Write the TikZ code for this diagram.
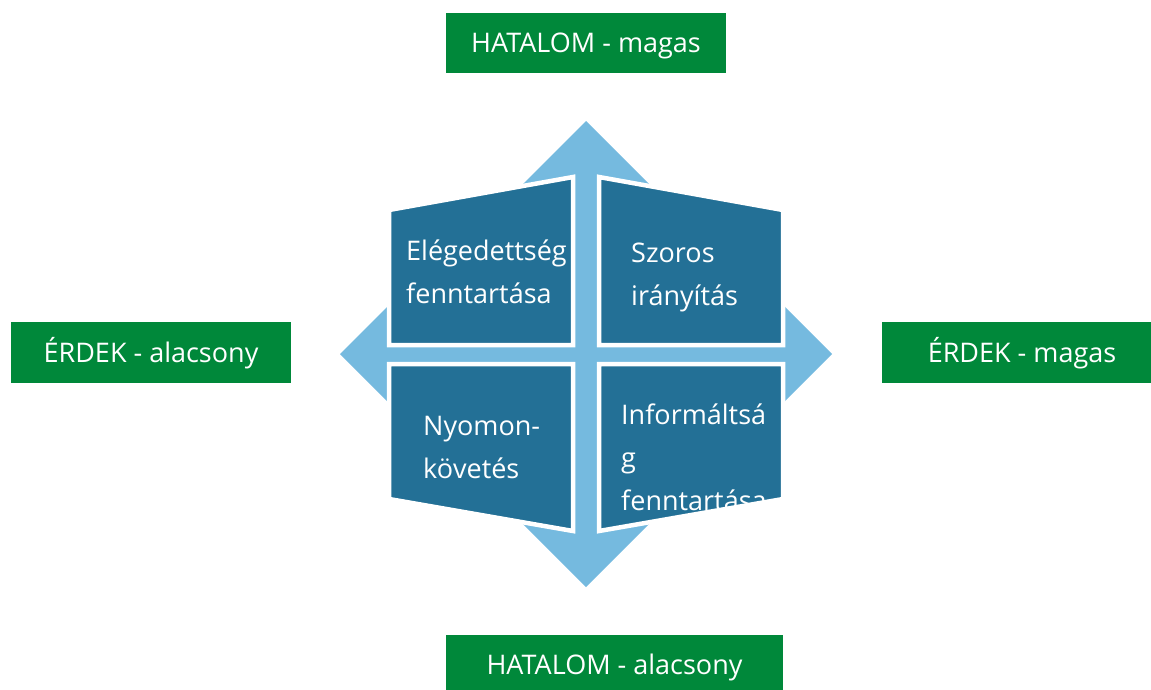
\documentclass[tikz,border=0pt]{standalone}
\usepackage{fontspec}
\setmainfont{Open Sans}
\definecolor{axisgreen}{RGB}{0,136,58}
\definecolor{quaddark}{RGB}{35,112,150}
\definecolor{arrowlight}{RGB}{117,186,223}
\tikzset{
  axislabel/.style={fill=axisgreen, text=white, inner sep=0pt,
    minimum height=60pt, font=\fontsize{27}{32}\selectfont,
    text height=19.3pt, text depth=0pt},
  quadrant/.style={fill=quaddark, draw=white, line width=4.5pt, line join=miter},
  % anchored at the baseline of the last line
  quadtext/.style={text=white, anchor=base west, align=left, inner sep=0pt,
    font=\fontsize{27}{43}\selectfont},
}
\begin{document}
\begin{tikzpicture}[x=1pt,y=-1pt]
\useasboundingbox (0,0) rectangle (1151,689);
\clip (0,0) rectangle (1151,689);

% four-way arrow behind the quadrants
\fill[arrowlight]
  (586,121) -- (661,196) -- (606,196) -- (606,334) -- (757,334) -- (757,279)
  -- (832,354) -- (757,429) -- (757,374) -- (606,374) -- (606,512) -- (661,512)
  -- (586,587) -- (511,512) -- (566,512) -- (566,374) -- (415,374) -- (415,429)
  -- (340,354) -- (415,279) -- (415,334) -- (566,334) -- (566,196) -- (511,196)
  -- cycle;

% quadrants
\draw[quadrant] (389,210) -- (573,177) -- (573,345) -- (389,345) -- cycle;
\draw[quadrant] (599,177) -- (783,210) -- (783,345) -- (599,345) -- cycle;
\draw[quadrant] (389,364) -- (573,364) -- (573,531) -- (389,499) -- cycle;
\draw[quadrant] (599,364) -- (783,364) -- (783,499) -- (599,531) -- cycle;

% quadrant texts
\node[quadtext] (tl) at (406,303) {Elégedettség\\fenntartása};
\node[quadtext] (tr) at (631,305) {Szoros\\irányítás};
\node[quadtext] (bl) at (423,478) {Nyomon-\\követés};
\node[quadtext] (br) at (621,510) {Informáltsá\\g\\fenntartása};

% axis labels
\node[axislabel, minimum width=280pt] (powhigh) at (586,43) {HATALOM - magas};
\node[axislabel, minimum width=337pt] (powlow) at (614.5,665) {HATALOM - alacsony};
\node[axislabel, minimum width=280pt, minimum height=61pt] (intlow) at (151,352.5) {ÉRDEK - alacsony};
\node[axislabel, minimum width=280pt, minimum height=61pt] (inthigh) at (1022,352.5) {ÉRDEK - magas};
\end{tikzpicture}
\end{document}
